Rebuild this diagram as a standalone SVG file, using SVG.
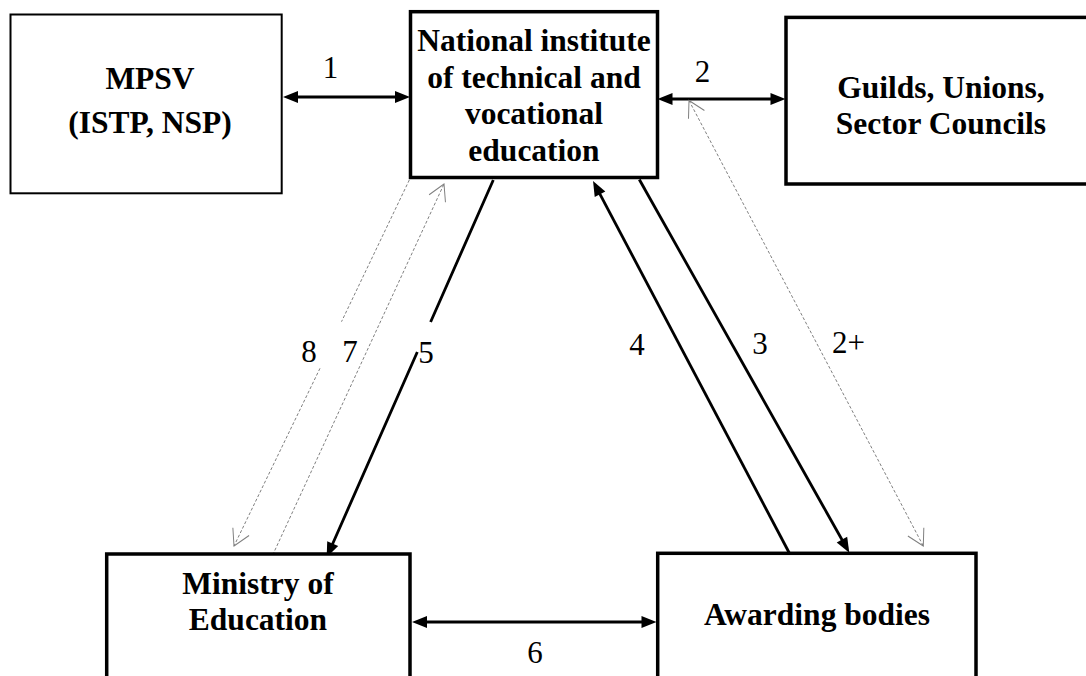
<svg xmlns="http://www.w3.org/2000/svg" width="1086" height="676" viewBox="0 0 1086 676" font-family="'Liberation Serif', 'Times New Roman', Times, serif">
<style>
.box{fill:#fff;stroke:#000;stroke-width:3.5}
.thin{fill:#fff;stroke:#000;stroke-width:2}
.nt{font-weight:bold;font-size:31.5px;fill:#000;text-anchor:middle}
.lb{font-size:31px;fill:#000}
.solid{fill:none;stroke:#000;stroke-width:2.8}
.dot{fill:none;stroke:#808080;stroke-width:1;stroke-dasharray:3,2}
</style>
<defs>
<marker id="ah" markerUnits="userSpaceOnUse" viewBox="0 0 15 12" markerWidth="15" markerHeight="12" refX="5" refY="6" orient="auto-start-reverse" overflow="visible">
<path d="M0,0 L15,6 L0,12 z" fill="#000"/>
</marker>
<marker id="oh" markerUnits="userSpaceOnUse" viewBox="0 0 17 20" markerWidth="17" markerHeight="20" refX="16" refY="10" orient="auto-start-reverse" overflow="visible">
<path d="M0,1 L16,10 L0,19" fill="none" stroke="#808080" stroke-width="1"/>
</marker>
</defs>
<rect width="1086" height="676" fill="#fff"/>
<g id="connectors">
<path class="solid" d="M293,97 L400,97" marker-start="url(#ah)" marker-end="url(#ah)"/>
<path class="solid" d="M667.5,99 L775.5,99" marker-start="url(#ah)" marker-end="url(#ah)"/>
<path class="solid" d="M422,622 L646.5,622" marker-start="url(#ah)" marker-end="url(#ah)"/>
<path class="solid" d="M493.3,180 L430.6,322 M417.3,352 L330.7,548.2" marker-end="url(#ah)"/>
<path class="solid" d="M639.3,179.5 L844.4,544" marker-end="url(#ah)"/>
<path class="solid" d="M789.3,553 L597.7,189.8" marker-end="url(#ah)"/>
<path class="dot" d="M409.3,180 L341.5,321.7 M320,368.3 L234,546" marker-end="url(#oh)"/>
<path class="dot" d="M272.7,555 L444,184" marker-end="url(#oh)"/>
<path class="dot" d="M689,100.5 L923.3,546" marker-start="url(#oh)" marker-end="url(#oh)"/>
<text class="lb" x="330.5" y="78" text-anchor="middle">1</text>
<text class="lb" x="702.5" y="82" text-anchor="middle">2</text>
<text class="lb" x="309" y="362" text-anchor="middle">8</text>
<text class="lb" x="350" y="362" text-anchor="middle">7</text>
<text class="lb" x="426" y="362.5" text-anchor="middle">5</text>
<text class="lb" x="637" y="355" text-anchor="middle">4</text>
<text class="lb" x="760" y="354" text-anchor="middle">3</text>
<text class="lb" x="832" y="353">2+</text>
<text class="lb" x="535" y="663" text-anchor="middle">6</text>
</g>
<g id="mpsv">
<rect class="thin" x="10.5" y="14.5" width="271.2" height="178.8"/>
<text class="nt" x="150" y="89">MPSV</text>
<text class="nt" x="150" y="133">(ISTP, NSP)</text>
</g>
<g id="national">
<rect class="box" x="410.5" y="11.7" width="247" height="165.8"/>
<text class="nt" x="534" y="51">National institute</text>
<text class="nt" x="534" y="87.5">of technical and</text>
<text class="nt" x="534" y="124">vocational</text>
<text class="nt" x="534" y="160.5">education</text>
</g>
<g id="guilds">
<rect class="box" x="786" y="17.4" width="320" height="166.6"/>
<text class="nt" x="941" y="98">Guilds, Unions,</text>
<text class="nt" x="941" y="134">Sector Councils</text>
</g>
<g id="ministry">
<rect class="box" x="106.7" y="554" width="303.3" height="150"/>
<text class="nt" x="258" y="594">Ministry of</text>
<text class="nt" x="258" y="630">Education</text>
</g>
<g id="awarding">
<rect class="box" x="657.7" y="553.3" width="318.3" height="150"/>
<text class="nt" x="817" y="625">Awarding bodies</text>
</g>
</svg>
